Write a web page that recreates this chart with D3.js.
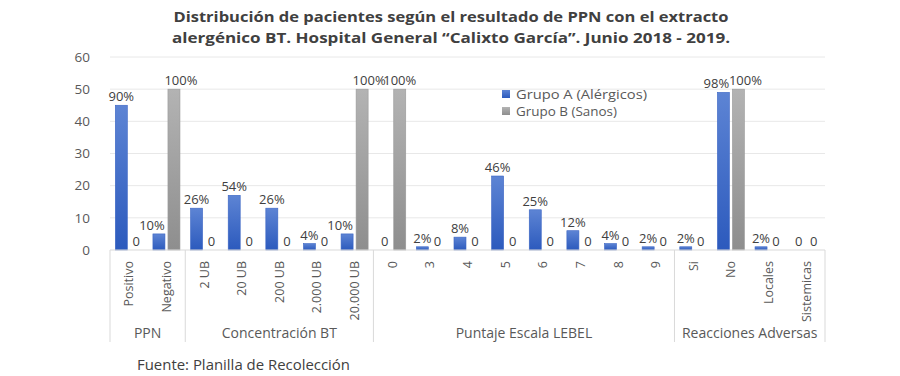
<!DOCTYPE html>
<html>
<head>
<meta charset="utf-8">
<script src="https://cdn.jsdelivr.net/npm/d3@7"></script>
<style>
  body { margin: 0; background: #fff; }
  text { font-family: "Open Sans", "Noto Sans", sans-serif; }
</style>
</head>
<body>
<div id="chart"></div>
<script>
// categories of the multi level x axis
var categories = ["Positivo", "Negativo", "2 UB", "20 UB", "200 UB", "2.000 UB", "20.000 UB",
    "0", "3", "4", "5", "6", "7", "8", "9", "Si", "No", "Locales", "Sistemicas"];
var groupNames = ["PPN", "Concentración BT", "Puntaje Escala LEBEL", "Reacciones Adversas"];
var groupSizes = [2, 5, 8, 4];

// series values
var grupoA = [45, 5, 13, 17, 13, 2, 5, 0, 1, 4, 23, 12.5, 6, 2, 1, 1, 49, 1, 0];
var grupoB = [0, 50, 0, 0, 0, 0, 50, 50, 0, 0, 0, 0, 0, 0, 0, 0, 50, 0, 0];
var labelsA = ["90%", "10%", "26%", "54%", "26%", "4%", "10%", "0", "2%", "8%", "46%", "25%",
    "12%", "4%", "2%", "2%", "98%", "2%", "0"];
var labelsB = ["0", "100%", "0", "0", "0", "0", "100%", "100%", "0", "0", "0", "0",
    "0", "0", "0", "0", "100%", "0", "0"];
var seriesNames = ["Grupo A (Alérgicos)", "Grupo B (Sanos)"];
var yTicks = [0, 10, 20, 30, 40, 50, 60];

var width = 900, height = 376;
var plot = { left: 110, right: 825, top: 57, bottom: 250 };

var svg = d3.select("#chart").append("svg")
    .attr("width", width)
    .attr("height", height);

// gradients for the bars
var defs = svg.append("defs");
function addGrad(id, top, bottom) {
    var g = defs.append("linearGradient").attr("id", id)
        .attr("x1", 0).attr("y1", 0).attr("x2", 0).attr("y2", 1);
    g.append("stop").attr("offset", "0%").attr("stop-color", top);
    g.append("stop").attr("offset", "100%").attr("stop-color", bottom);
}
addGrad("gradA", "#5d84d4", "#2c5abd");
addGrad("gradB", "#b3b3b3", "#8e8e8e");

// title (the source picture is a bit stretched sideways)
var titleLines = ["Distribución de pacientes según el resultado de PPN con el extracto",
    "alergénico BT. Hospital General “Calixto García”. Junio 2018 - 2019."];
svg.append("g").selectAll("text")
    .data(titleLines)
    .enter().append("text")
    .attr("x", 451)
    .attr("y", function (d, i) { return 22 + i * 21; })
    .attr("text-anchor", "middle")
    .attr("font-weight", "bold")
    .attr("font-size", 15)
    .attr("fill", "#404040")
    .attr("textLength", function (d, i) { return i == 0 ? 555 : 558; })
    .attr("lengthAdjust", "spacingAndGlyphs")
    .text(function (d) { return d; });

var xScale = d3.scaleBand().domain(d3.range(categories.length))
    .range([plot.left, plot.right]).padding(0);
var xInner = d3.scaleBand().domain([0, 1])
    .range([5.3, xScale.bandwidth() - 5.3]).paddingInner(0.2);
var yScale = d3.scaleLinear().domain([0, 60]).range([plot.bottom, plot.top]);

// gridlines
svg.append("g").selectAll("line")
    .data(yTicks.slice(1))
    .enter().append("line")
    .attr("x1", plot.left).attr("x2", plot.right)
    .attr("y1", function (d) { return yScale(d); })
    .attr("y2", function (d) { return yScale(d); })
    .attr("stroke", "#e8e8e8").attr("stroke-width", 1);

// y axis labels
var yAxis = svg.append("g")
    .attr("transform", "translate(" + plot.left + ",0)")
    .call(d3.axisLeft(yScale).tickValues(yTicks).tickSize(0).tickPadding(20));
yAxis.select(".domain").remove();
yAxis.selectAll("text")
    .attr("font-family", "Open Sans, sans-serif")
    .attr("font-size", 13.5)
    .attr("fill", "#595959");

// bars
var seriesVals = [grupoA, grupoB];
var seriesLabels = [labelsA, labelsB];
var fills = ["url(#gradA)", "url(#gradB)"];
var strokes = ["#3a64c4", "#999999"];

seriesVals.forEach(function (vals, s) {
    svg.append("g").selectAll("rect")
        .data(vals)
        .enter().append("rect")
        .attr("x", function (d, i) { return xScale(i) + xInner(s); })
        .attr("y", function (d) { return yScale(d); })
        .attr("width", xInner.bandwidth())
        .attr("height", function (d) { return plot.bottom - yScale(d); })
        .attr("fill", fills[s])
        .attr("stroke", strokes[s])
        .attr("stroke-width", function (d) { return d > 0 ? 0.6 : 0; });
});

// value labels, pushed apart a bit when both bars of a category are tall
seriesVals.forEach(function (vals, s) {
    svg.append("g").selectAll("text")
        .data(vals)
        .enter().append("text")
        .attr("x", function (d, i) {
            var cx = xScale(i) + xInner(s) + xInner.bandwidth() / 2;
            if (grupoA[i] > 0 && grupoB[i] > 0) cx += (s == 0 ? -7 : 7);
            return cx;
        })
        .attr("y", function (d) { return yScale(d) - 4; })
        .attr("text-anchor", "middle")
        .attr("font-size", 13)
        .attr("fill", "#404040")
        .text(function (d, i) { return seriesLabels[s][i]; });
});

// baseline
svg.append("line")
    .attr("x1", plot.left).attr("x2", plot.right)
    .attr("y1", plot.bottom).attr("y2", plot.bottom)
    .attr("stroke", "#d9d9d9");

// category labels (rotated)
svg.append("g").selectAll("text")
    .data(categories)
    .enter().append("text")
    .attr("transform", function (d, i) {
        return "translate(" + (xScale(i) + xScale.bandwidth() / 2 + 4.5) + "," + (plot.bottom + 11) + ") rotate(-90)";
    })
    .attr("text-anchor", "end")
    .attr("font-size", 12.5)
    .attr("fill", "#595959")
    .text(function (d) { return d; });

// group separators and group labels
var starts = [0];
groupSizes.forEach(function (n, k) { starts.push(starts[k] + n); });
svg.append("g").selectAll("line")
    .data(starts)
    .enter().append("line")
    .attr("x1", function (d) { return d < categories.length ? xScale(d) : plot.right; })
    .attr("x2", function (d) { return d < categories.length ? xScale(d) : plot.right; })
    .attr("y1", plot.bottom).attr("y2", 342)
    .attr("stroke", "#d9d9d9");

svg.append("g").selectAll("text")
    .data(groupNames)
    .enter().append("text")
    .attr("x", function (d, k) {
        var a = xScale(starts[k]);
        var b = starts[k + 1] < categories.length ? xScale(starts[k + 1]) : plot.right;
        return (a + b) / 2;
    })
    .attr("y", 338)
    .attr("text-anchor", "middle")
    .attr("font-size", 14)
    .attr("fill", "#595959")
    .text(function (d) { return d; });

// legend
var legend = svg.append("g").attr("transform", "translate(502,90)");
seriesNames.forEach(function (name, s) {
    legend.append("rect")
        .attr("x", 0).attr("y", s * 17)
        .attr("width", 8).attr("height", 8)
        .attr("fill", fills[s]);
    legend.append("text")
        .attr("x", 14).attr("y", s * 17 + 8.5)
        .attr("font-size", 12.5)
        .attr("fill", "#595959")
        .attr("textLength", s == 0 ? 131 : 101)
        .attr("lengthAdjust", "spacingAndGlyphs")
        .text(name);
});

// source note
svg.append("text")
    .attr("x", 137).attr("y", 370)
    .attr("font-size", 14)
    .attr("fill", "#404040")
    .attr("textLength", 213)
    .attr("lengthAdjust", "spacingAndGlyphs")
    .text("Fuente: Planilla de Recolección");
</script>
</body>
</html>
